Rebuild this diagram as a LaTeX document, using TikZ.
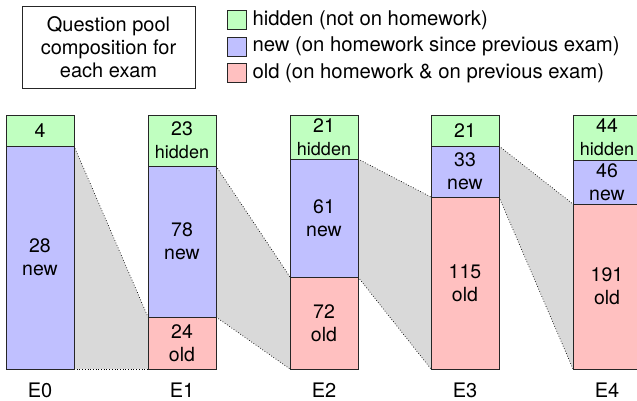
\documentclass[tikz,border=0pt]{standalone}
\usepackage{fontspec}
\setmainfont{TeX Gyre Heros}
\usepackage{xcolor}
\usetikzlibrary{positioning,backgrounds}
\definecolor{hidcol}{RGB}{192,255,192}
\definecolor{newcol}{RGB}{192,192,255}
\definecolor{oldcol}{RGB}{255,192,192}
\definecolor{gapcol}{RGB}{217,217,217}
\tikzset{
	seg/.style={draw=black!85, line width=0.8pt, minimum width=68pt, inner sep=0pt, outer sep=0pt,
			align=center, font=\fontsize{19.5}{23}\selectfont},
	hid/.style={seg, fill=hidcol},
	nw/.style={seg, fill=newcol},
	ol/.style={seg, fill=oldcol},
	swatch/.style={draw=black!85, line width=0.6pt, minimum size=19pt, inner sep=0pt},
	legtext/.style={inner sep=0pt, anchor=west, font=\fontsize{20.3}{23}\selectfont},
	examlabel/.style={inner sep=0pt, font=\fontsize{20}{23}\selectfont}
}
\newcommand{\hidw}{{\fontsize{18}{23}\selectfont hidden}}

\begin{document}
\begin{tikzpicture}[x=1pt, y=-1pt]
	\useasboundingbox (0,0) rectangle (637,401);

	% title box
	\node[draw=black!85, line width=0.8pt, minimum width=173pt, minimum height=82pt, align=center,
		font=\fontsize{20}{23}\selectfont] (title) at (108.5,47) {Question pool\\composition for\\each exam};

	% legend
	\node[swatch, fill=hidcol] (lgh) at (236.5,20) {};
	\node[swatch, fill=newcol] (lgn) at (236.5,46.5) {};
	\node[swatch, fill=oldcol] (lgo) at (236.5,73) {};
	\node[legtext, right=6pt of lgh] (lghtext) {hidden (not on homework)};
	\node[legtext, right=6pt of lgn] (lgntext) {new (on homework since previous exam)};
	\node[legtext, right=6pt of lgo] (lgotext) {old (on homework \& on previous exam)};

	% E0
	\node[hid, anchor=north west, minimum height=31pt] (e0h) at (6,115) {4};
	\node[nw, minimum height=223pt, below=0pt of e0h] (e0n) {28\\new};
	% E1
	\node[hid, anchor=north west, minimum height=51pt] (e1h) at (148,115) {23\\\hidw};
	\node[nw, minimum height=151pt, below=0pt of e1h] (e1n) {78\\new};
	\node[ol, minimum height=52pt, below=0pt of e1n] (e1o) {24\\old};
	% E2
	\node[hid, anchor=north west, minimum height=44pt] (e2h) at (290,115) {21\\\hidw};
	\node[nw, minimum height=118pt, below=0pt of e2h] (e2n) {61\\new};
	\node[ol, minimum height=92pt, below=0pt of e2n] (e2o) {72\\old};
	% E3
	\node[hid, anchor=north west, minimum height=31pt] (e3h) at (431,115) {21};
	\node[nw, minimum height=51pt, below=0pt of e3h] (e3n) {33\\new};
	\node[ol, minimum height=172pt, below=0pt of e3n] (e3o) {115\\old};
	% E4
	\node[hid, anchor=north west, minimum height=45pt] (e4h) at (573,115) {44\\\hidw};
	\node[nw, minimum height=44pt, below=0pt of e4h] (e4n) {46\\new};
	\node[ol, minimum height=165pt, below=0pt of e4n] (e4o) {191\\old};

	% carried-over questions
	\begin{scope}[on background layer]
		\foreach \a/\b in {e0/e1, e1/e2, e2/e3, e3/e4}{
			\fill[gapcol] (\a n.north east) -- (\b o.north west) -- (\b o.south west) -- (\a n.south east) -- cycle;
			\draw[dotted, line width=0.7pt] (\a n.north east) -- (\b o.north west);
			\draw[dotted, line width=0.7pt] (\a n.south east) -- (\b o.south west);
		}
	\end{scope}

	% exam labels
	\foreach \e/\s in {0/n, 1/o, 2/o, 3/o, 4/o}{
		\node[examlabel, below=14pt of e\e\s.south] (lab\e) {E\e};
	}
\end{tikzpicture}
\end{document}
